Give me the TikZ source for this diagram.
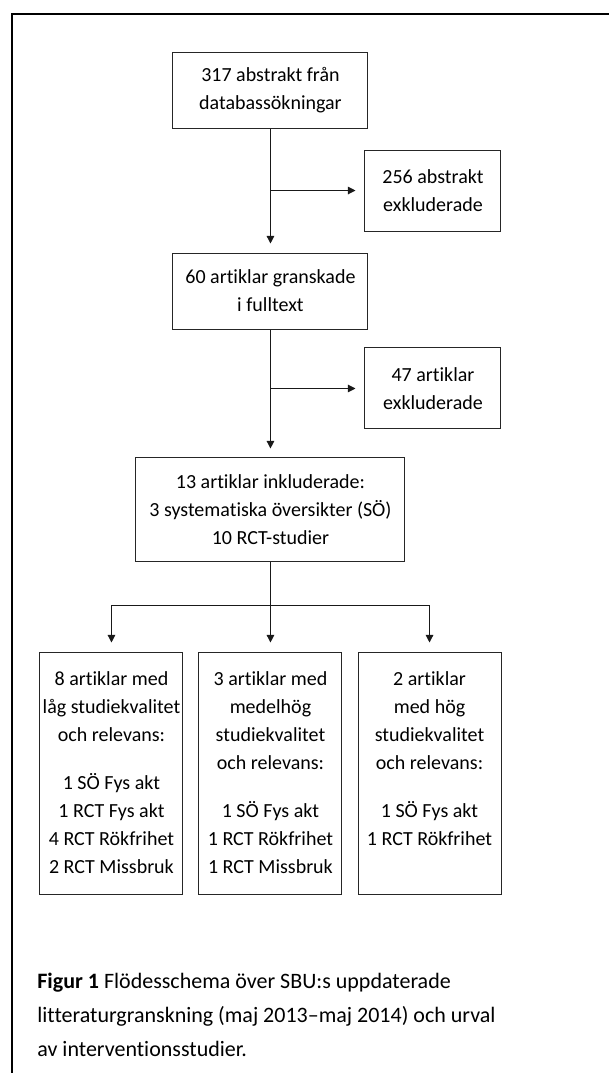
\documentclass[tikz,border=0pt]{standalone}
\usepackage{fontspec}
\setmainfont{Carlito}[Ligatures={NoCommon}]
\usetikzlibrary{arrows.meta}
\begin{document}
\begin{tikzpicture}[
  box/.style={draw=black!85, line width=0.5pt, align=center, inner sep=0pt, font=\fontsize{10}{14}\selectfont},
  arr/.style={draw=black!90, line width=0.5pt, -{Triangle[length=3.8pt,width=3.8pt]}, shorten >=4.5pt},
  link/.style={draw=black!90, line width=0.5pt}]
\useasboundingbox (0,0) rectangle (10.702,-18.856);
\draw[line width=0.7pt] (0.211,-18.856) -- (0.211,-0.246) -- (10.702,-0.246);
% flow
\node[box, minimum width=97.5pt, minimum height=38pt] (sokning) at (4.753,-1.582) {317 abstrakt från\\databassökningar};
\node[box, minimum width=68pt, minimum height=40.5pt] (exkl1) at (7.609,-3.348) {256 abstrakt\\exkluderade};
\node[box, minimum width=97.5pt, minimum height=38pt] (fulltext) at (4.753,-5.114) {60 artiklar granskade\\i fulltext};
\node[box, minimum width=68pt, minimum height=40.5pt] (exkl2) at (7.609,-6.827) {47 artiklar\\exkluderade};
\node[box, minimum width=134.5pt, minimum height=52pt] (inkl) at (4.753,-8.962) {13 artiklar inkluderade:\\3 systematiska översikter (SÖ)\\10 RCT-studier};
% quality groups
\node[box, minimum width=71.5pt, minimum height=121pt] (lag) at (1.959,-13.584) {8 artiklar med\\låg studiekvalitet\\och relevans:\\[10pt]1 SÖ Fys akt\\1 RCT Fys akt\\4 RCT Rökfrihet\\2 RCT Missbruk};
\node[box, minimum width=71.5pt, minimum height=121pt] (medel) at (4.753,-13.584) {3 artiklar med\\medelhög\\studiekvalitet\\och relevans:\\[10pt]1 SÖ Fys akt\\1 RCT Rökfrihet\\1 RCT Missbruk};
\node[box, minimum width=71.5pt, minimum height=121pt] (hog) at (7.548,-13.584) {2 artiklar\\med hög\\studiekvalitet\\och relevans:\\[10pt]1 SÖ Fys akt\\1 RCT Rökfrihet\\\mbox{}};
% connectors
\coordinate (ut1) at (sokning.south |- exkl1.west);
\coordinate (ut2) at (fulltext.south |- exkl2.west);
\coordinate (fork) at (4.753,-10.649);
\draw[arr] (sokning) -- (fulltext);
\draw[arr] (ut1) -- (exkl1);
\draw[arr] (fulltext) -- (inkl);
\draw[arr] (ut2) -- (exkl2);
\draw[link] (inkl) -- (fork);
\draw[arr] (fork) -| (lag);
\draw[arr] (fork) -- (medel);
\draw[arr] (fork) -| (hog);
% caption
\node[anchor=north west, inner sep=0pt, align=left, font=\fontsize{11}{17}\selectfont] (figtext) at (0.650,-17.099) {\textbf{Figur 1}\ Flödesschema över SBU:s uppdaterade\\litteraturgranskning (maj 2013--maj 2014) och urval\\av interventionsstudier.};
\end{tikzpicture}
\end{document}
